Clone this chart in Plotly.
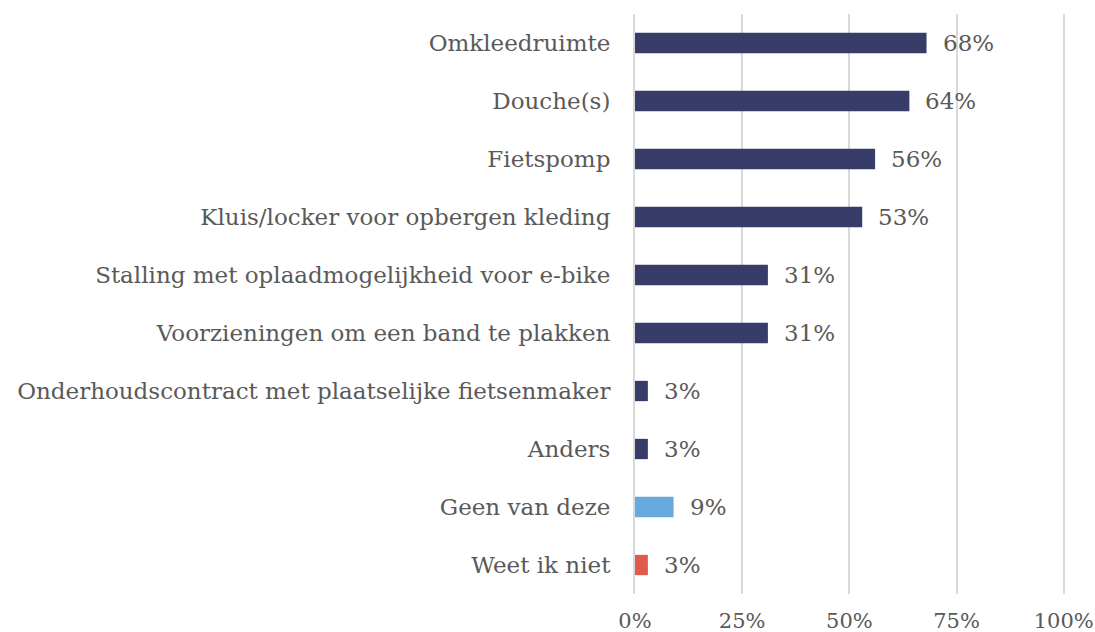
import plotly.graph_objects as go

# Survey answers (top to bottom) and their share of respondents
categories = [
    "Omkleedruimte",
    "Douche(s)",
    "Fietspomp",
    "Kluis/locker voor opbergen kleding",
    "Stalling met oplaadmogelijkheid voor e-bike",
    "Voorzieningen om een band te plakken",
    "Onderhoudscontract met plaatselijke fietsenmaker",
    "Anders",
    "Geen van deze",
    "Weet ik niet",
]
shares = [0.68, 0.64, 0.56, 0.53, 0.31, 0.31, 0.03, 0.03, 0.09, 0.03]
bar_colors = ["#373C68"] * 8 + ["#66AADF", "#E05A4E"]

x_ticks = [0, 0.25, 0.5, 0.75, 1.0]
x_tick_labels = ["0%", "25%", "50%", "75%", "100%"]

FONT = "DejaVu Serif"
GREY = "#595959"

fig = go.Figure(
    go.Bar(
        y=categories,
        x=shares,
        orientation="h",
        marker=dict(color=bar_colors, line=dict(width=0)),
        width=0.35,
        hoverinfo="skip",
    )
)

# value labels just right of each bar end
for cat, val in zip(categories, shares):
    fig.add_annotation(
        x=val, y=cat, text=f"{round(val * 100)}%",
        xanchor="left", yanchor="middle", xshift=14, showarrow=False,
        font=dict(family=FONT, size=23, color=GREY),
    )

fig.update_layout(
    width=1095, height=632,
    margin=dict(l=635, r=30, t=14, b=38),
    paper_bgcolor="white", plot_bgcolor="white",
    showlegend=False,
    font=dict(family=FONT, size=23, color=GREY),
)
fig.update_xaxes(
    range=[0, 1.003], tickvals=x_ticks, ticktext=x_tick_labels,
    showgrid=True, gridcolor="#D9D9D9", gridwidth=2,
    zeroline=False, showline=False, ticks="", automargin=False,
    ticklabeloverflow="allow",
    ticklabelstandoff=12, tickfont=dict(size=21, color=GREY),
)
fig.update_yaxes(
    autorange="reversed", showgrid=False, zeroline=False, automargin=False,
    showline=True, linecolor="#D9D9D9", linewidth=2, ticks="",
    ticklabelstandoff=18,
)

fig.write_html("out.html")
